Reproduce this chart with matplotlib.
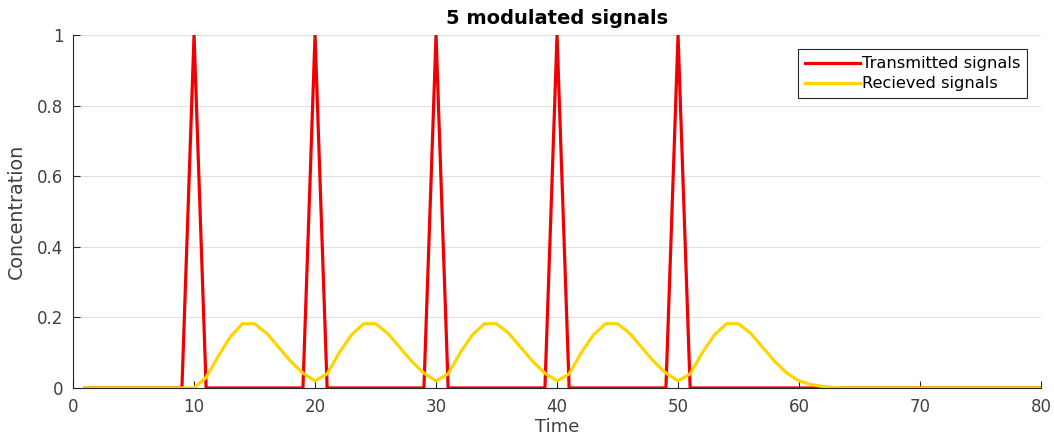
import numpy as np
import matplotlib
matplotlib.use("Agg")
import matplotlib.pyplot as plt

# sample times 1..80
time = list(range(1, 81))

# transmitted pulses: 1 at pulse times, 0 elsewhere
pulse_times = [10, 20, 30, 40, 50]
transmitted = [1.0 if t in pulse_times else 0.0 for t in time]

# received signal (t = 1..80)
received = (
    [0.0] * 10                                                        # t 1-10
    + [0.03, 0.09, 0.145, 0.182, 0.182, 0.155, 0.115, 0.075, 0.042, 0.02]   # t 11-20
    + [0.04, 0.10, 0.15, 0.182, 0.182, 0.155, 0.115, 0.075, 0.042, 0.02]    # t 21-30
    + [0.04, 0.10, 0.15, 0.182, 0.182, 0.155, 0.115, 0.075, 0.042, 0.02]    # t 31-40
    + [0.04, 0.10, 0.15, 0.182, 0.182, 0.155, 0.115, 0.075, 0.042, 0.02]    # t 41-50
    + [0.04, 0.10, 0.15, 0.182, 0.182, 0.155, 0.115, 0.075, 0.042, 0.02]    # t 51-60
    + [0.01, 0.004, 0.001, 0.0, 0.0, 0.0, 0.0, 0.0, 0.0, 0.0]              # t 61-70
    + [0.0] * 10                                                        # t 71-80
)

x_ticks = [0, 10, 20, 30, 40, 50, 60, 70, 80]
y_ticks = [0, 0.2, 0.4, 0.6, 0.8, 1]
y_tick_labels = ["0", "0.2", "0.4", "0.6", "0.8", "1"]

text_col = "#404040"

fig = plt.figure(figsize=(10.54, 4.43), dpi=100)
ax = fig.add_axes([0.0693, 0.1242, 0.9184, 0.7968])

ax.plot(time, transmitted, color="#f00000", lw=2.3, label="Transmitted signals")
ax.plot(time, received, color="#ffd400", lw=2.3, label="Recieved signals")

ax.set_xlim(0, 80)
ax.set_ylim(0, 1)
ax.set_xticks(x_ticks)
ax.set_yticks(y_ticks)
ax.set_yticklabels(y_tick_labels)
ax.tick_params(direction="in", length=5, width=0.8, labelsize=12,
               colors=text_col, pad=7)
ax.tick_params(axis="both", color="#262626")

for side in ["top", "right"]:
    ax.spines[side].set_visible(False)
for side in ["left", "bottom"]:
    ax.spines[side].set_color("#262626")
    ax.spines[side].set_linewidth(0.8)

ax.yaxis.grid(True, color="#e0e0e0", lw=0.8)
ax.set_axisbelow(True)

ax.set_title("5 modulated signals", fontsize=14, fontweight="bold", pad=8)
ax.set_xlabel("Time", fontsize=13, color=text_col, labelpad=2)
ax.set_ylabel("Concentration", fontsize=13.8, color=text_col, labelpad=8)

leg = ax.legend(loc="upper right", bbox_to_anchor=(0.986, 0.959),
                fontsize=11.7, handlelength=3.4, handletextpad=0.15,
                borderpad=0.42, labelspacing=0.32, borderaxespad=0,
                fancybox=False, framealpha=1, edgecolor="#262626")
leg.get_frame().set_linewidth(0.8)

fig.savefig("out.png", dpi=100)
